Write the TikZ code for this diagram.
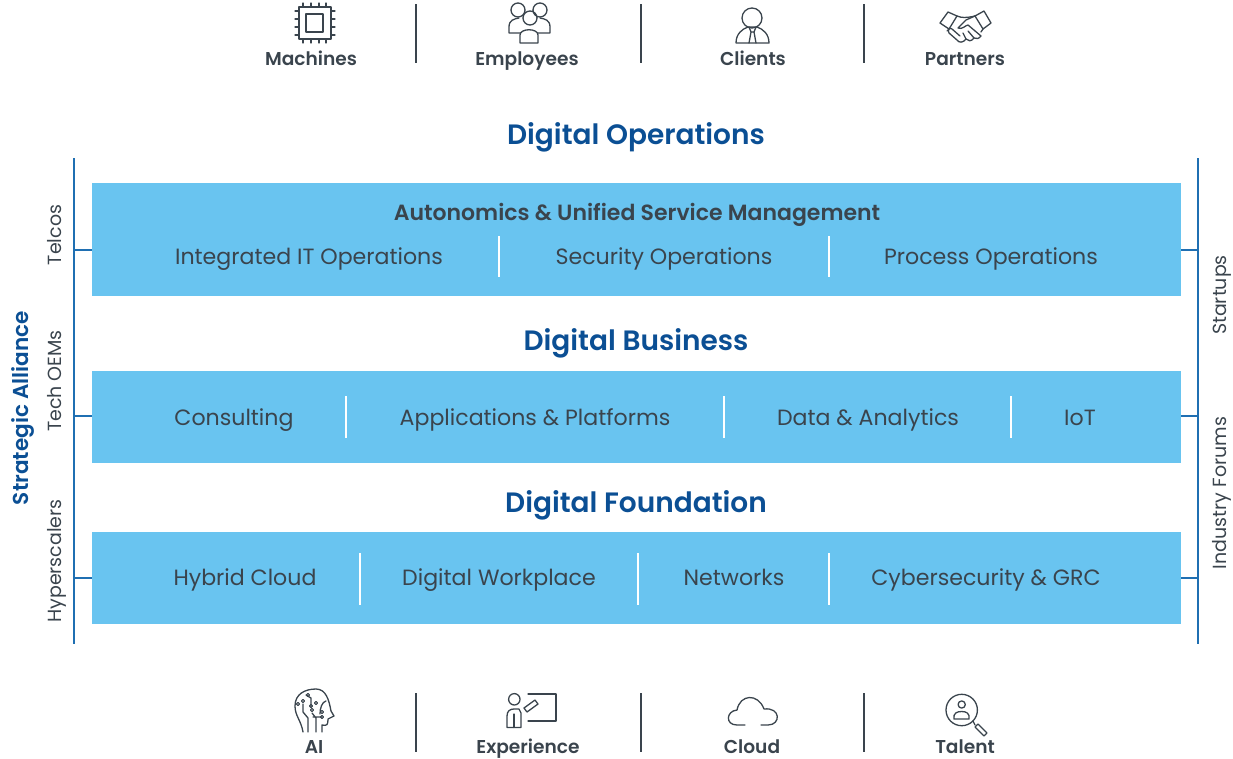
\documentclass[tikz,border=0pt]{standalone}
\usepackage{fontspec}
\setmainfont{Poppins}
\newfontfamily\medfont{Poppins Medium}
\newfontfamily\semifont{Poppins SemiBold}
\definecolor{bandblue}{HTML}{69C4F0}
\definecolor{headblue}{HTML}{0B4F94}
\definecolor{inkgrey}{HTML}{3A444D}
\definecolor{railblue}{HTML}{1F6FB2}
\tikzset{
 head/.style={anchor=base,text=headblue,font=\fontsize{28}{30}\semifont},
 item/.style={anchor=base,text=inkgrey,font=\fontsize{22.1}{26}\selectfont},
 tag/.style={anchor=base,text=inkgrey,font=\fontsize{18.6}{22}\semifont},
 side/.style={anchor=base,text=inkgrey,font=\fontsize{19}{22}\selectfont,rotate=90},
 band/.style={fill=bandblue,draw=none,minimum width=1089pt,inner sep=0pt,anchor=north west},
 rail/.style={draw=railblue,line width=1.6pt},
 icon/.style={draw=inkgrey,line width=1.3pt,line join=round,line cap=round},
}
\begin{document}
\begin{tikzpicture}[x=1pt,y=-1pt]
 \useasboundingbox (0,0) rectangle (1233,758);
 % bands
 \node[band,minimum height=113pt] (opsband) at (92,183) {};
 \node[band,minimum height=92pt] (busband) at (92,371) {};
 \node[band,minimum height=92pt] (fndband) at (92,532) {};
 % headings
 \node[head] (opshead) at (636,144) {Digital Operations};
 \node[head] (bushead) at (636,350) {Digital Business};
 \node[head] (fndhead) at (636,512) {Digital Foundation};
 % texts in the bands
 \node[item,font=\fontsize{22}{26}\semifont] (autohead) at (637,220) {Autonomics \& Unified Service Management};
 \foreach \x/\n/\t in {309/itops/Integrated IT Operations,664/secops/Security Operations,991/procops/Process Operations}
  \node[item] (\n) at (\x,264) {\t};
 \foreach \x/\n/\t in {234/consult/Consulting,535/apps/Applications \& Platforms,868/data/Data \& Analytics,1080/iot/IoT}
  \node[item] (\n) at (\x,425) {\t};
 \foreach \x/\n/\t in {245/hybrid/Hybrid Cloud,499/work/Digital Workplace,734/nets/Networks,986/cyber/Cybersecurity \& GRC}
  \node[item] (\n) at (\x,585) {\t};
 % white dividers
 \foreach \x in {499,829}
  \draw[white,line width=1.2pt] (\x,236) -- (\x,277);
 \foreach \x in {346,724,1011}
  \draw[white,line width=1.2pt] (\x,396) -- (\x,438);
 \foreach \x in {360,638,829}
  \draw[white,line width=1.2pt] (\x,553) -- (\x,605);
 % rails
 \coordinate (LT) at (74,158);
 \coordinate (LB) at (74,644);
 \coordinate (RT) at (1198,158);
 \coordinate (RB) at (1198,644);
 \draw[rail] (LT) -- (LB);
 \draw[rail] (RT) -- (RB);
 \foreach \y/\b in {250/opsband,416/busband,578/fndband} {
  \coordinate (L\b) at (74,\y);
  \coordinate (R\b) at (1198,\y);
  \draw[rail] (L\b) -- (L\b -| \b.west);
  \draw[rail] (R\b) -- (R\b -| \b.east);
 }
 % side labels
 \node[side] (telcos) at (61,235) {Telcos};
 \node[side] (oems) at (61,381) {Tech OEMs};
 \node[side] (hypers) at (61,561) {Hyperscalers};
 \node[side,text=headblue,font=\fontsize{21.6}{24}\semifont] (alliance) at (28,408) {Strategic Alliance};
 \node[side] (startups) at (1226,295) {Startups};
 \node[side] (forums) at (1226,493) {Industry Forums};
 % top and bottom rows
 \foreach \x in {416,641,864} {
  \draw[inkgrey,line width=1.3pt] (\x,4) -- (\x,63);
  \draw[inkgrey,line width=1.3pt] (\x,693) -- (\x,752);
 }
 \foreach \x/\n/\t in {311/machines/Machines,527/employees/Employees,753/clients/Clients,965/partners/Partners}
  \node[tag] (\n) at (\x,65) {\t};
 \foreach \x/\n/\t in {314/ai/AI,528/experience/Experience,752/cloud/Cloud,965/talent/Talent}
  \node[tag] (\n) at (\x,753) {\t};
 % machines
 \draw[icon] (299,7) rectangle (331,39) (306,14) rectangle (323,32);
 \foreach \p in {303,311,319,326} {
  \draw[icon] (\p,3) -- (\p,7) (\p,39) -- (\p,43);
 }
 \foreach \p in {11,19,27,35} {
  \draw[icon] (295,\p) -- (299,\p) (331,\p) -- (335,\p);
 }
 % employees
 \draw[icon] (518,10) circle (7) (540,10) circle (7) (530,18) circle (7);
 \draw[icon] (520,43) -- (520,35) .. controls (520,28) and (538,28) .. (538,35) -- (538,43) -- cycle;
 \draw[icon] (520,33) -- (509,33) -- (509,27) .. controls (509,20) and (514,19) .. (519,18);
 \draw[icon] (538,33) -- (550,33) -- (550,27) .. controls (550,20) and (545,19) .. (540,18);
 % clients
 \draw[icon] (752,18) circle (10);
 \draw[icon] (736,43) -- (769,43) .. controls (769,34) and (763,29) .. (757,27) -- (748,27) .. controls (742,29) and (736,34) .. (736,43);
 \draw[icon] (749,27) -- (751,32) -- (749,43) (756,27) -- (754,32) -- (756,43) (751,32) -- (754,32);
 % partners
 \draw[icon] (940,23) -- (948,12) -- (957,16) -- (949,29) -- cycle;
 \draw[icon] (975,16) -- (984,11) -- (991,23) -- (983,29) -- cycle;
 \draw[icon] (957,16) .. controls (962,18) and (966,18) .. (975,16);
 \draw[icon] (975,16) -- (966,20) -- (958,28) .. controls (962,30) and (966,25) .. (968,25) -- (981,36) .. controls (979,39) and (976,39) .. (974,38);
 \draw[icon] (974,38) .. controls (971,42) and (968,41) .. (966,39) .. controls (963,43) and (959,43) .. (957,40) -- (949,33) .. controls (947,30) and (950,27) .. (952,29) -- (960,36);
 \draw[icon] (983,29) -- (981,32) (949,29) -- (947,31) (968,31) -- (974,38) (963,33) -- (966,39);
 % ai
 \draw[icon] (303,732) .. controls (301,720) and (295,716) .. (295,706) .. controls (295,694) and (305,689) .. (316,689) .. controls (326,689) and (329,700) .. (331,711) -- (334,716) -- (328,719) .. controls (328,725) and (327,726) .. (322,725) -- (322,732);
 \draw[icon] (308,732) -- (308,718) -- (303,712) -- (303,704) (316,732) -- (316,718) -- (312,713) (322,717) -- (313,717);
 \draw[icon] (311,707) -- (311,698) -- (306,695) (320,714) .. controls (320,708) and (322,702) .. (326,701);
 \foreach \a/\b in {303/701,308/695,312/710,316/703,311/706,322/712,298/704,322/717} {
  \draw[icon,line width=1pt] (\a,\b) circle (1.6);
 }
 % experience
 \draw[icon] (514.3,699.3) circle (5.7);
 \draw[icon] (507,727.5) -- (507,716) .. controls (507,711) and (510,709) .. (514,709) -- (519,709) -- (521,713) -- (521,727.5) -- cycle;
 \draw[icon] (514,714) -- (514,727.5);
 \draw[icon] (528,694) -- (556,694) -- (556,721) -- (528,721);
 \draw[icon] (524,708) -- (535,700) -- (538,704) -- (527,712) -- cycle;
 % cloud
 \draw[icon] (745,725) -- (737,725) .. controls (725,725) and (726,711) .. (737,710) .. controls (740,694) and (758,693) .. (764,709) .. controls (781,707) and (781,725) .. (768,725) -- (761,725);
 % talent
 \draw[icon] (961.7,710) circle (15.7);
 \draw[icon] (961.7,704.5) circle (3.6);
 \draw[icon] (954,719) -- (969,719) .. controls (970,713) and (966,711.5) .. (961.7,711.5) .. controls (957,711.5) and (953,713) .. (954,719) -- cycle;
 \draw[icon] (973,721) -- (975,725);
 \draw[icon] (975,727) -- (978,724) -- (987,733) -- (984,736) -- cycle;
\end{tikzpicture}
\end{document}
